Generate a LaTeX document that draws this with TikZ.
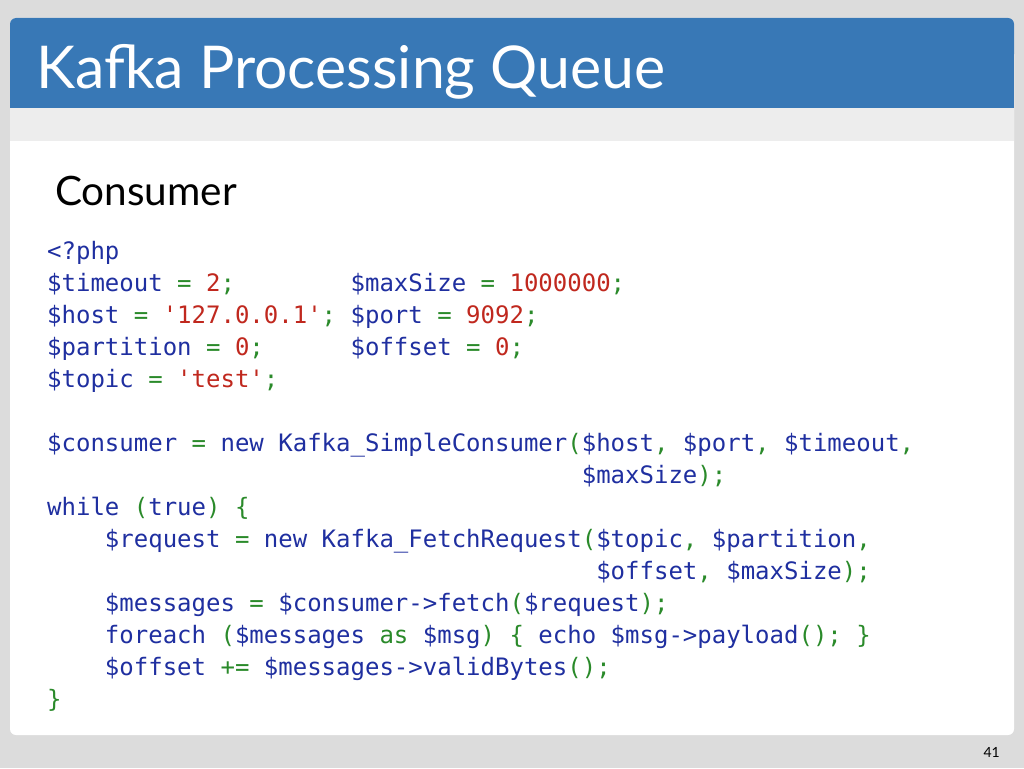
\documentclass[tikz,border=0pt]{standalone}
\usepackage{fontspec}
\setmainfont{Lato}
\newfontfamily\codefont{DejaVu Sans Mono}
\definecolor{hdr}{HTML}{3878B6}
\definecolor{bg}{HTML}{DCDCDC}
\definecolor{band}{HTML}{EDEDED}
\definecolor{cb}{HTML}{1F2FA0}
\definecolor{cr}{HTML}{C0281E}
\definecolor{cg}{HTML}{2A8A2A}
\newcommand{\Vb}[1]{\textcolor{cb}{#1}}
\newcommand{\Nr}[1]{\textcolor{cr}{#1}}
\newcommand{\Pg}[1]{\textcolor{cg}{#1}}
\newcommand{\Gap}[1]{\hphantom{#1}}
\begin{document}
\begin{tikzpicture}[x=1pt,y=-1pt,
  code/.style={anchor=base west,inner sep=0pt,font=\codefont\fontsize{24}{24}\selectfont}]
\useasboundingbox (0,0) rectangle (1024,768);
\fill[bg] (0,0) rectangle (1024,768);
\fill[white,rounded corners=6pt] (10,18) rectangle (1014,735);
\fill[hdr,rounded corners=6pt] (10,18) rectangle (1014,60);
\fill[hdr] (10,40) rectangle (1014,108);
\fill[band] (10,108) rectangle (1014,141);
\node[anchor=base west,text=white,font=\fontsize{59}{59}\selectfont,inner sep=0pt] (title) at (36,88) {Kafka Processing Queue};
\node[anchor=base west,font=\fontsize{40.5}{40.5}\selectfont,inner sep=0pt] (sub) at (55,205) {Consumer};
\node[code] (l1) at (47,259) {\Vb{<?php}};
\node[code] (l2) at (47,291) {\Vb{\$timeout} \Pg{=} \Nr{2}\Pg{;}\Gap{xxxxxxxx}\Vb{\$maxSize} \Pg{=} \Nr{1000000}\Pg{;}};
\node[code] (l3) at (47,323) {\Vb{\$host} \Pg{=} \Nr{'127.0.0.1'}\Pg{;} \Vb{\$port} \Pg{=} \Nr{9092}\Pg{;}};
\node[code] (l4) at (47,355) {\Vb{\$partition} \Pg{=} \Nr{0}\Pg{;}\Gap{xxxxxx}\Vb{\$offset} \Pg{=} \Nr{0}\Pg{;}};
\node[code] (l5) at (47,387) {\Vb{\$topic} \Pg{=} \Nr{'test'}\Pg{;}};
\node[code] (l6) at (47,451) {\Vb{\$consumer} \Pg{=} \Vb{new Kafka\_SimpleConsumer}\Pg{(}\Vb{\$host}\Pg{,} \Vb{\$port}\Pg{,} \Vb{\$timeout}\Pg{,}};
\node[code] (l7) at (47,483) {\Gap{\$consumer = new Kafka\_SimpleConsumer(}\Vb{\$maxSize}\Pg{);}};
\node[code] (l8) at (47,515) {\Vb{while} \Pg{(}\Vb{true}\Pg{) \{}};
\node[code] (l9) at (47,547) {\Gap{xxxx}\Vb{\$request} \Pg{=} \Vb{new Kafka\_FetchRequest}\Pg{(}\Vb{\$topic}\Pg{,} \Vb{\$partition}\Pg{,}};
\node[code] (l10) at (47,579) {\Gap{xxxx\$request = new Kafka\_FetchRequest(}\Vb{\$offset}\Pg{,} \Vb{\$maxSize}\Pg{);}};
\node[code] (l11) at (47,611) {\Gap{xxxx}\Vb{\$messages} \Pg{=} \Vb{\$consumer->fetch}\Pg{(}\Vb{\$request}\Pg{);}};
\node[code] (l12) at (47,643) {\Gap{xxxx}\Vb{foreach} \Pg{(}\Vb{\$messages} \Pg{as} \Vb{\$msg}\Pg{) \{} \Vb{echo \$msg->payload}\Pg{(); \}}};
\node[code] (l13) at (47,675) {\Gap{xxxx}\Vb{\$offset} \Pg{+=} \Vb{\$messages->validBytes}\Pg{();}};
\node[code] (l14) at (47,707) {\Pg{\}}};
\node[anchor=base east,font=\fontsize{14}{14}\selectfont,inner sep=0pt] (pg) at (1000,757) {41};
\end{tikzpicture}
\end{document}
